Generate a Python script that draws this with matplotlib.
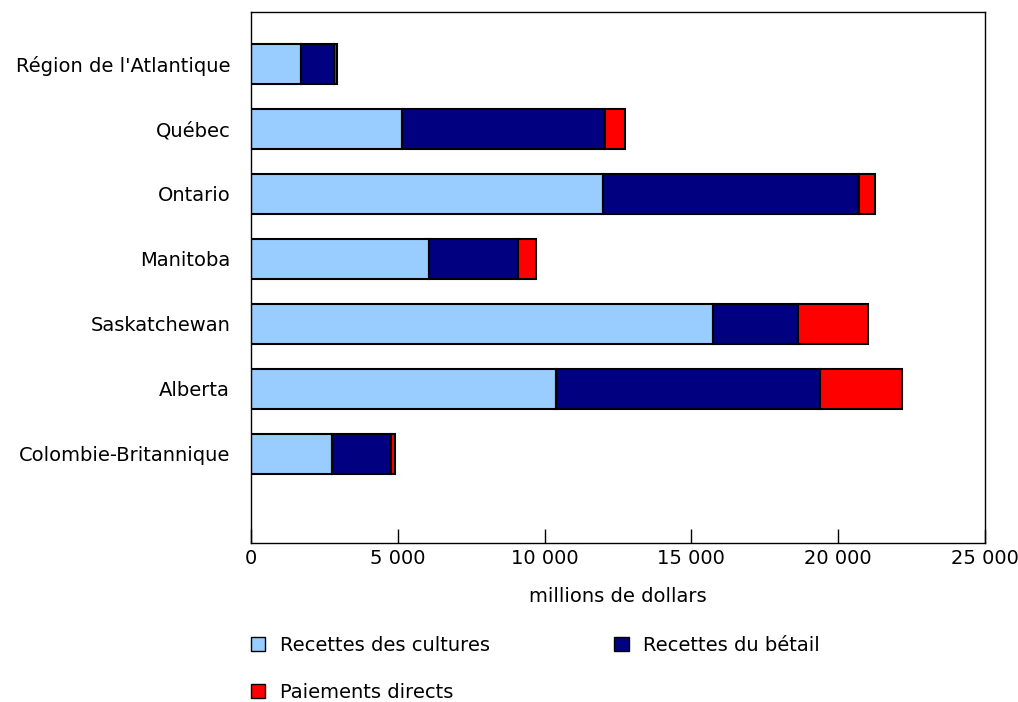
import numpy as np
import matplotlib.pyplot as plt
from matplotlib.ticker import FuncFormatter
from matplotlib.patches import Patch

regions = ["Région de l'Atlantique", "Québec", "Ontario", "Manitoba",
           "Saskatchewan", "Alberta", "Colombie-Britannique"]
cultures = [1700, 5140, 12000, 6050, 15720, 10400, 2760]
betail = [1130, 6910, 8700, 3030, 2910, 8970, 2010]
paiements = [110, 680, 570, 640, 2390, 2790, 130]

series_names = ["Recettes des cultures", "Recettes du bétail", "Paiements directs"]
colors = ["#99ccff", "#000080", "#ff0000"]

plt.rcParams['font.family'] = ['DejaVu Sans']
fs = 14

fig = plt.figure(figsize=(10.18, 7.02), dpi=100)
ax = fig.add_axes([251/1018, 1 - 543/702, 734/1018, 531/702])

y = np.arange(len(regions))
left = np.zeros(len(regions))
for vals, col in zip([cultures, betail, paiements], colors):
    ax.barh(y, vals, left=left, height=0.615, color=col, edgecolor='black', linewidth=1.5)
    left = left + np.array(vals)

ax.set_ylim(7.37, -0.8)
ax.set_xlim(0, 25000)
ax.set_yticks(y)
ax.set_yticklabels(regions, fontsize=fs)
ax.tick_params(axis='y', length=0, pad=15)
ax.set_xticks(np.arange(0, 25001, 5000))
ax.xaxis.set_major_formatter(FuncFormatter(lambda v, p: f"{int(v):,}".replace(",", " ")))
ax.tick_params(axis='x', direction='in', length=10, width=1, labelsize=fs, pad=4)
ax.set_xlabel("millions de dollars", fontsize=fs, labelpad=14)
for s in ax.spines.values():
    s.set_linewidth(1)

handles = [Patch(facecolor=colors[0], edgecolor='black'),
           Patch(facecolor=colors[2], edgecolor='black'),
           Patch(facecolor=colors[1], edgecolor='black')]
labels = [series_names[0], series_names[2], series_names[1]]
fig.legend(handles, labels, loc='upper left', bbox_to_anchor=(235/1018, 1 - 620/702),
           ncol=2, frameon=False, fontsize=fs, columnspacing=6.4, labelspacing=1.45,
           handlelength=0.75, handleheight=0.75, handletextpad=0.75, borderpad=0.3)

fig.savefig("out.png", dpi=100)
